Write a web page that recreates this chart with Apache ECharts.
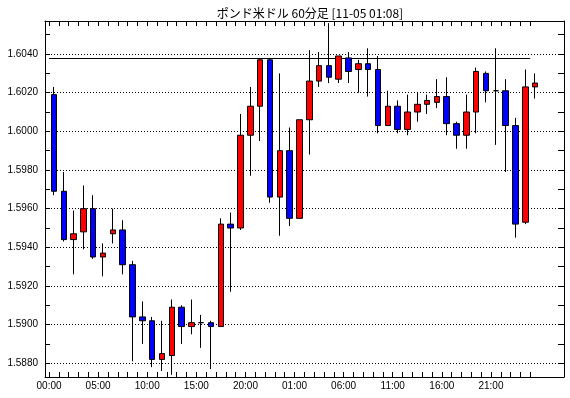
<!DOCTYPE html>
<html lang="ja">
<head>
    <meta charset="UTF-8">
    <title>ポンド米ドル 60分足</title>
    <style>
        html, body { margin: 0; padding: 0; background: #fff; }
        #main { width: 570px; height: 398px; }
    </style>
</head>
<body>
<div id="main"></div>
<script src="https://cdn.jsdelivr.net/npm/echarts@6/dist/echarts.min.js"></script>
<script>
    // 60分足 ローソク足データ (始値, 終値, 安値, 高値)
    const opens  = [1.6019,1.5969,1.5944,1.5948,1.5960,1.5935,1.5947,1.5949,1.5931,1.5904,
                    1.5902,1.5882,1.5884,1.5909,1.5899,1.5901,1.5901,1.5899,1.5952,1.5950,
                    1.5998,1.6013,1.6037,1.5966,1.5990,1.5955,1.6006,1.6026,1.6034,1.6027,
                    1.6038,1.6032,1.6035,1.6032,1.6003,1.6013,1.6001,1.6010,1.6014,1.6015,
                    1.6018,1.6004,1.5998,1.6010,1.6030,1.6021,1.6021,1.6003,1.5953,1.6023];
    const closes = [1.5969,1.5944,1.5947,1.5960,1.5935,1.5937,1.5949,1.5931,1.5904,1.5902,
                    1.5882,1.5885,1.5909,1.5899,1.5901,1.5901,1.5899,1.5952,1.5950,1.5998,
                    1.6013,1.6037,1.5966,1.5990,1.5955,1.6006,1.6026,1.6034,1.6028,1.6039,
                    1.6031,1.6035,1.6032,1.6003,1.6013,1.6001,1.6010,1.6014,1.6016,1.6018,
                    1.6004,1.5998,1.6010,1.6031,1.6021,1.6021,1.6003,1.5952,1.6023,1.6025];
    const lows   = [1.5967,1.5943,1.5926,1.5939,1.5934,1.5925,1.5942,1.5926,1.5881,1.5890,
                    1.5878,1.5876,1.5874,1.5890,1.5895,1.5888,1.5877,1.5899,1.5917,1.5949,
                    1.5977,1.5995,1.5963,1.5946,1.5951,1.5955,1.5988,1.6023,1.6025,1.6025,
                    1.6025,1.6020,1.6018,1.5999,1.6003,1.5999,1.5998,1.6005,1.6009,1.6012,
                    1.5998,1.5991,1.5991,1.5999,1.6015,1.5993,1.5979,1.5945,1.5952,1.6017];
    const highs  = [1.6023,1.5979,1.5959,1.5972,1.5967,1.5942,1.5960,1.5954,1.5933,1.5912,
                    1.5904,1.5902,1.5913,1.5910,1.5913,1.5905,1.5902,1.5955,1.5958,1.6009,
                    1.6023,1.6038,1.6038,1.6030,1.6002,1.6006,1.6042,1.6041,1.6056,1.6039,
                    1.6041,1.6037,1.6043,1.6039,1.6021,1.6016,1.6019,1.6020,1.6019,1.6027,
                    1.6028,1.6005,1.6019,1.6033,1.6031,1.6043,1.6027,1.6007,1.6032,1.6030];

    // 目盛り
    const xLabels = ['00:00','05:00','10:00','15:00','20:00','01:00','06:00','11:00','16:00','21:00'];
    const xLabelPos = [0,5,10,15,20,25,30,35,40,45];
    const yLabels = [1.5880,1.5900,1.5920,1.5940,1.5960,1.5980,1.6000,1.6020,1.6040];
    const yTicks = [1.5880,1.5890,1.5900,1.5910,1.5920,1.5930,1.5940,1.5950,1.5960,1.5970,
                    1.5980,1.5990,1.6000,1.6010,1.6020,1.6030,1.6040,1.6050];
    const hLine = 1.6038;

    const hourTicks = opens.map((v, i) => i);
    const data = opens.map((o, i) => [i + 0.5, o, closes[i], lows[i], highs[i]]);

    const dom = document.getElementById('main');
    const myChart = echarts.init(dom, null, {renderer: 'canvas'});

    const xMin = -0.41, xMax = 52.44;
    const yMin = 1.58729, yMax = 1.60571;
    const fontFamily = '"Liberation Sans", Arial, sans-serif';

    // 点線のグリッド線 + 水平線
    const gridLines = yLabels.map(v => [
        {coord: [xMin, v], lineStyle: {color: '#000', type: [1, 2], width: 1}},
        {coord: [xMax, v]}
    ]);
    gridLines.push([
        {coord: [0, hLine], lineStyle: {color: '#000', type: 'solid', width: 1}},
        {coord: [49, hLine]}
    ]);

    const option = {
        backgroundColor: '#fff',
        animation: false,
        title: {
            text: 'ポンド米ドル 60分足 [11-05 01:08]',
            left: 305,
            textAlign: 'center',
            top: 2,
            textStyle: {
                fontFamily: '"Noto Sans CJK JP", sans-serif',
                fontSize: 12,
                fontWeight: 'normal',
                color: '#000'
            }
        },
        grid: {left: 45, right: 6, top: 21, bottom: 21, containLabel: false},
        xAxis: [{
            type: 'value', min: xMin, max: xMax, position: 'bottom',
            axisLine: {show: true, onZero: false, lineStyle: {color: '#000', width: 1}},
            axisTick: {show: true, inside: true, length: 5, customValues: hourTicks,
                       lineStyle: {color: '#000'}},
            axisLabel: {
                show: true, margin: 4, customValues: xLabelPos,
                color: '#000', fontSize: 10, fontFamily: fontFamily,
                formatter: function (v) { return xLabels[xLabelPos.indexOf(Math.round(v))] || ''; }
            },
            splitLine: {show: false}
        }, {
            type: 'value', min: xMin, max: xMax, position: 'top',
            axisLine: {show: true, onZero: false, lineStyle: {color: '#000', width: 1}},
            axisTick: {show: true, inside: true, length: 5, customValues: hourTicks,
                       lineStyle: {color: '#000'}},
            axisLabel: {show: false},
            splitLine: {show: false}
        }],
        yAxis: [{
            type: 'value', min: yMin, max: yMax, position: 'left', scale: true,
            axisLine: {show: true, onZero: false, lineStyle: {color: '#000', width: 1}},
            axisTick: {show: true, inside: true, length: 5, customValues: yTicks,
                       lineStyle: {color: '#000'}},
            axisLabel: {
                show: true, margin: 7, customValues: yLabels,
                color: '#000', fontSize: 10, fontFamily: fontFamily,
                formatter: function (v) { return v.toFixed(4); }
            },
            splitLine: {show: false}
        }, {
            type: 'value', min: yMin, max: yMax, position: 'right', scale: true,
            axisLine: {show: true, onZero: false, lineStyle: {color: '#000', width: 1}},
            axisTick: {show: true, inside: true, length: 6, customValues: yTicks,
                       lineStyle: {color: '#000'}},
            axisLabel: {show: false},
            splitLine: {show: false}
        }],
        series: [{
            type: 'candlestick',
            xAxisIndex: 0,
            yAxisIndex: 0,
            data: data,
            encode: {x: 0, y: [1, 2, 3, 4]},
            barWidth: 6,
            z: 3,
            itemStyle: {
                color: '#ff0000',
                color0: '#0000ff',
                borderColor: '#000',
                borderColor0: '#000',
                borderColorDoji: '#000',
                borderWidth: 1
            },
            markLine: {
                silent: true,
                symbol: 'none',
                label: {show: false},
                animation: false,
                z: 1,
                data: gridLines
            }
        }]
    };

    myChart.setOption(option);
</script>
</body>
</html>
